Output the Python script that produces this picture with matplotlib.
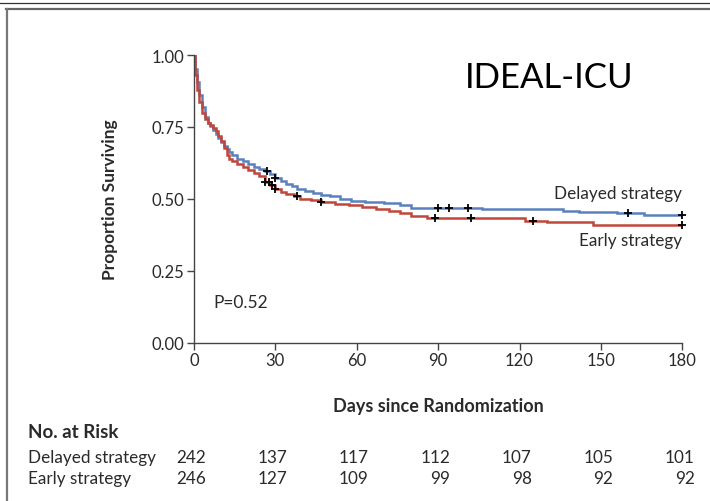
import numpy as np
import matplotlib
matplotlib.use("Agg")
import matplotlib.pyplot as plt
from matplotlib.lines import Line2D
from matplotlib.transforms import blended_transform_factory

plt.rcParams["font.family"] = ["Lato", "DejaVu Sans"]

# Kaplan-Meier step points (day, proportion surviving)
delayed_t = [0, 0.5, 1, 2, 3, 4, 5, 6, 7, 8, 9, 10, 11, 12, 13, 14, 16, 18, 20, 22,
             24, 26, 28, 30, 32, 34, 36, 38, 41, 44, 47, 50, 54, 58, 63, 70, 76, 80,
             106, 136, 142, 156, 166]
delayed_s = [1.0, 0.95, 0.905, 0.86, 0.82, 0.785, 0.765, 0.752, 0.738, 0.724, 0.71,
             0.697, 0.684, 0.672, 0.662, 0.652, 0.64, 0.63, 0.62, 0.612, 0.603, 0.595,
             0.585, 0.572, 0.562, 0.552, 0.545, 0.535, 0.527, 0.52, 0.514, 0.508, 0.5,
             0.493, 0.488, 0.484, 0.478, 0.468, 0.465, 0.459, 0.455, 0.45, 0.443]
early_t = [0, 0.5, 1, 2, 3, 4, 5, 6, 7, 8, 9, 10, 11, 12, 13, 14, 16, 18, 20, 22,
           24, 26, 28, 30, 32, 34, 37, 39, 43, 47, 52, 57, 62, 67, 72, 76, 80, 86,
           122, 130, 147]
early_s = [1.0, 0.93, 0.88, 0.835, 0.8, 0.777, 0.765, 0.756, 0.746, 0.735, 0.72, 0.7,
           0.675, 0.652, 0.64, 0.632, 0.62, 0.61, 0.6, 0.59, 0.578, 0.56, 0.548, 0.534,
           0.525, 0.516, 0.508, 0.5, 0.495, 0.49, 0.483, 0.477, 0.47, 0.465, 0.459,
           0.452, 0.441, 0.433, 0.424, 0.42, 0.41]

# censored observations (days)
delayed_cens = [27, 30, 90, 94, 101, 160, 180]
early_cens = [26.3, 27.5, 28.6, 30, 38, 47, 89, 102, 125, 180]

risk_days = [0, 30, 60, 90, 120, 150, 180]
risk_delayed = [242, 137, 117, 112, 107, 105, 101]
risk_early = [246, 127, 109, 99, 98, 92, 92]

BLUE = "#5b80bf"
RED = "#c0473a"
TXT = "#2a2a2a"
X_MAX = 180


def km_at(times, surv, t):
    idx = np.searchsorted(times, t, side="right") - 1
    return np.asarray(surv)[idx]


fig = plt.figure(figsize=(7.1, 5.02), dpi=100)
ax = fig.add_axes([0.2732, 0.3157, 0.6878, 0.5727])

for times, surv, cens, color in [
    (delayed_t, delayed_s, delayed_cens, BLUE),
    (early_t, early_s, early_cens, RED),
]:
    ts = list(times) + [X_MAX]
    ss = list(surv) + [surv[-1]]
    ax.step(ts, ss, where="post", color=color, lw=1.8, solid_joinstyle="miter", zorder=2)
    ax.plot(cens, km_at(times, surv, cens), linestyle="none", marker="+",
            color="black", ms=6, mew=1.3, clip_on=False, zorder=3)

ax.set_xlim(0, X_MAX)
ax.set_ylim(0, 1.0)
ax.set_xticks(risk_days)
ax.set_yticks([0, 0.25, 0.5, 0.75, 1.0])
ax.set_yticklabels(["0.00", "0.25", "0.50", "0.75", "1.00"])
for side in ("top", "right"):
    ax.spines[side].set_visible(False)
for side in ("left", "bottom"):
    ax.spines[side].set_color("#444444")
    ax.spines[side].set_linewidth(1.0)
ax.tick_params(direction="out", length=5, width=1.0, color="#444444",
               labelsize=12, labelcolor=TXT, pad=2)

ax.set_ylabel("Proportion Surviving", fontsize=12.5, fontweight="bold", color=TXT)
ax.yaxis.set_label_coords(-0.156, 0.5)
ax.set_xlabel("Days since Randomization", fontsize=13, fontweight="bold", color=TXT)
ax.xaxis.set_label_coords(0.5, -0.19)

ax.text(180, 0.52, "Delayed strategy", ha="right", va="center", fontsize=12.3, color=TXT)
ax.text(180, 0.357, "Early strategy", ha="right", va="center", fontsize=12.3, color=TXT)
ax.text(7, 0.141, "P=0.52", ha="left", va="center", fontsize=12.5, color=TXT)
ax.text(131, 0.923, "IDEAL-ICU", ha="center", va="center", fontsize=25, color="black")

# number at risk table
tr = blended_transform_factory(ax.transData, ax.transAxes)
ax.text(-0.34, -0.308, "No. at Risk", transform=ax.transAxes, ha="left", va="center",
        fontsize=13.5, fontweight="bold", color=TXT)
for yrow, name, counts in [(-0.398, "Delayed strategy", risk_delayed),
                           (-0.471, "Early strategy", risk_early)]:
    ax.text(-0.34, yrow, name, transform=ax.transAxes, ha="left", va="center",
            fontsize=12.3, color=TXT)
    for d, n in zip(risk_days, counts):
        ax.text(d + 4.5, yrow, str(n), transform=tr, ha="right", va="center",
                fontsize=12.3, color=TXT)

# outer frame lines
fig.add_artist(Line2D([0, 1], [1 - 3.5 / 502] * 2, transform=fig.transFigure,
                      color="#333333", lw=0.9))
fig.add_artist(Line2D([6 / 710, 1], [1 - 9.5 / 502] * 2, transform=fig.transFigure,
                      color="#666666", lw=1.6))
fig.add_artist(Line2D([6.5 / 710] * 2, [0, 1 - 9.5 / 502], transform=fig.transFigure,
                      color="#777777", lw=1.6))

fig.savefig("out.png", dpi=100)
